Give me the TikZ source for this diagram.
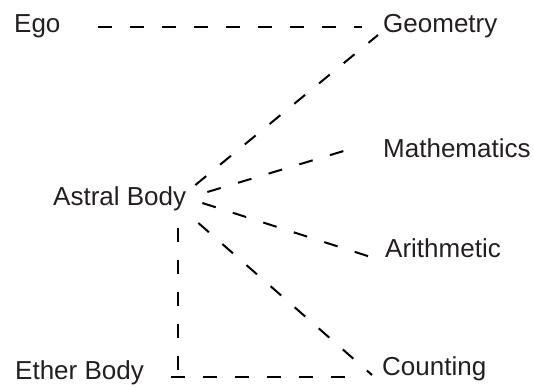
\documentclass[tikz,border=0pt]{standalone}
\usepackage{fontspec}
\setmainfont{Liberation Sans}
\definecolor{ink}{RGB}{35,31,32}
\begin{document}
\begin{tikzpicture}[x=1pt,y=-1pt,
  lbl/.style={anchor=base west,inner sep=0pt,text=ink,font=\fontsize{26}{30}\selectfont},
  link/.style={draw=black,line width=2pt,dash pattern=on 14pt off 18pt}]
\useasboundingbox (0,0) rectangle (534,385);
\node[lbl] (ego) at (14,33) {Ego};
\node[lbl] (geometry) at (383,33) {Geometry};
\node[lbl] (math) at (383,157) {Mathematics};
\node[lbl] (astral) at (53,205) {Astral Body};
\node[lbl] (arith) at (385,257) {Arithmetic};
\node[lbl] (ether) at (15,379) {Ether Body};
\node[lbl] (counting) at (382,375) {Counting};
% connectors
\draw[link] ([shift={(37,-6)}]ego.base east) -- ([shift={(-21,-6)}]geometry.base west);
\draw[link] ([shift={(9,-20)}]astral.base east) -- ([shift={(-5,2)}]geometry.base west);
\draw[link] ([shift={(21,-13)}]astral.base east) -- ([shift={(-26,-10)}]math.base west);
\draw[link] ([shift={(16,-2)}]astral.base east) -- ([shift={(-8,2)}]arith.base west);
\draw[link] ([shift={(12,18)}]astral.base east) -- ([shift={(-10,0)}]counting.base west);
\coordinate (vtop) at ([shift={(-8,23)}]astral.base east);
\coordinate (hleft) at ([shift={(27,-2)}]ether.base east);
\draw[link] (vtop) -- (vtop |- hleft);
\draw[link] (hleft) -- ([shift={(-25,2)}]counting.base west);
\end{tikzpicture}
\end{document}
